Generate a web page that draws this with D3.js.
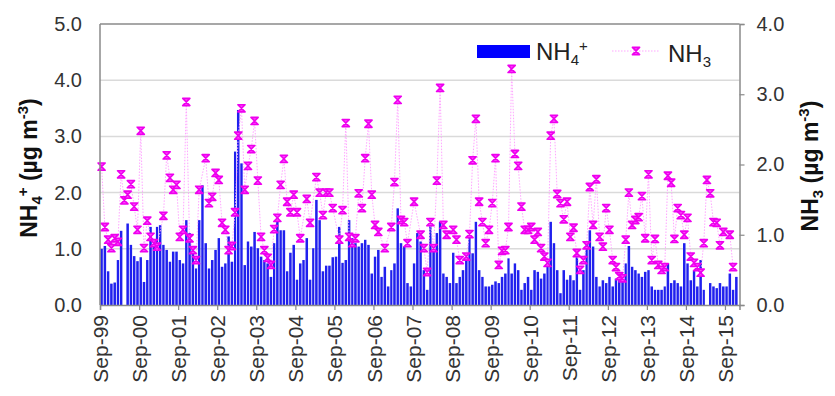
<!DOCTYPE html>
<html>
<head>
<meta charset="utf-8">
<script src="https://cdn.jsdelivr.net/npm/d3@7"></script>
<style>
  html, body { margin: 0; padding: 0; background: #fff; }
  svg { display: block; }
  text { font-family: Arial, "Liberation Sans", sans-serif; }
</style>
</head>
<body>
<svg id="chart" width="835" height="396"></svg>
<script>
// Monthly record, first month September 1999
const firstMonth = [1999, 8];

// NH4+ concentration (µg m-3), left axis
const nh4Values = [
  1.0, 1.05, 0.6, 0.38, 0.4, 0.8, 1.32, null, 1.45, 1.07, 0.87, 0.78,
  0.85, 0.41, 0.8, 1.39, 1.04, 1.39, 1.42, 1.07, 0.98, 0.77, 0.95, 0.95,
  0.8, 0.74, 1.51, 1.28, 0.98, 0.65, 1.51, 2.13, 1.1, 0.65, 0.8, 0.98,
  1.19, 0.68, 0.74, 1.22, 0.77, 2.73, 3.47, 2.52, 0.71, 1.13, 1.04, 1.3,
  1.01, 0.86, 0.8, 0.74, 0.5, 1.1, 1.55, 1.33, 1.33, 0.6, 0.93, 1.07,
  0.45, 0.74, 0.8, 1.19, 0.45, 1.01, 1.87, 1.51, 0.6, 0.7, 0.7, 0.85,
  0.86, 1.39, 0.75, 0.8, 1.51, 1.19, 1.1, 1.04, 1.1, 1.16, 1.07, 0.56,
  0.86, 0.98, 0.5, 0.68, 0.33, 0.62, 0.74, 1.72, 1.1, 1.04, 0.39, 0.33,
  0.74, 1.28, 1.13, 0.62, 0.27, 1.45, 0.95, 1.28, 1.48, 0.56, 0.5, 0.39,
  0.93, 0.39, 0.5, 0.62, 0.8, 1.22, 0.92, 1.48, 0.62, 0.5, 0.33, 0.33,
  0.36, 0.42, 0.39, 0.5, 0.56, 0.83, 0.56, 0.74, 0.62, 0.27, 0.39, 0.5,
  0.27, 0.62, 0.59, 0.47, 0.56, 0.74, 1.48, 1.1, 0.62, 0.21, 0.62, 0.45,
  0.53, 0.44, 0.85, 0.27, 0.62, 1.1, 1.33, 1.04, 0.5, 0.33, 0.44, 0.39,
  0.5, 0.33, 0.47, 0.44, 0.45, 0.74, 1.05, 0.68, 0.62, 0.56, 0.5, 0.59,
  0.62, 0.33, 0.27, 0.27, 0.27, 0.33, 0.74, 0.39, 0.44, 0.39, 0.33, 1.1,
  0.74, 0.44, 0.62, 0.33, 0.8, 0.27, null, 0.39, 0.33, 0.3, 0.39, 0.33,
  0.33, 0.56, 0.27, 0.5
];

// NH3 concentration (µg m-3), right axis
const nh3Values = [
  1.97, 1.11, 0.93, 0.81, 0.95, 0.9, 1.86, 1.49, 1.57, 1.72, 1.4, 1.07,
  2.48, 0.81, 1.2, 0.97, 0.88, 0.83, null, 1.27, 2.13, 1.81, 1.64, 1.71,
  0.97, 1.07, 2.89, 0.95, 0.78, 0.64, 1.64, null, 2.09, 1.45, 1.54, 1.88,
  1.78, 1.17, 1.07, 0.78, 0.84, 1.32, 2.41, 2.8, 1.64, 1.98, 2.22, 2.62,
  1.77, 0.97, 0.78, 0.67, 0.57, 1.08, 1.24, 1.71, 2.08, 1.47, 1.32, 1.57,
  1.32, 0.95, null, 1.51, 1.17, null, 1.82, 1.6, 1.28, 1.6, 1.6, 1.38,
  null, 0.93, 1.35, 2.59, 0.97, 0.88, 0.95, 1.59, 1.38, 2.09, 2.58, 1.57,
  1.14, 1.04, null, 0.81, null, 1.11, 1.75, 2.92, 1.21, 1.18, 0.88, null,
  1.47, null, 1.0, 0.81, 0.47, 1.18, 0.81, 1.77, 3.09, 1.14, 1.0, null,
  1.07, 0.93, 0.64, null, 0.69, 1.01, 2.06, 2.65, 1.47, 1.18, 0.88, 1.07,
  1.45, 2.09, 0.57, 0.77, 0.78, 1.11, 3.36, 2.15, 1.98, 1.4, 1.07, 1.07,
  1.11, 0.93, 1.04, 0.81, 0.69, 0.6, 2.41, 2.65, 1.58, 1.45, 1.22, 1.47,
  0.97, 1.1, 0.74, 0.5, 0.64, 0.85, 1.68, 1.14, 1.79, 0.97, 0.83, 1.38,
  1.07, 0.64, 0.54, 0.41, 0.38, 0.93, 1.6, 1.14, 1.21, 1.25, 1.55, 0.95,
  1.86, 0.64, 0.94, 0.57, 0.5, 0.54, 1.84, 1.74, 0.94, 1.38, 1.28, 1.0,
  1.24, 0.69, 0.6, 0.54, 0.46, 0.88, 1.78, 1.59, 1.18, 1.17, 0.85, 1.04,
  null, 1.0, 0.54, null
];

const xTickLabels = ["Sep-99", "Sep-00", "Sep-01", "Sep-02", "Sep-03", "Sep-04",
  "Sep-05", "Sep-06", "Sep-07", "Sep-08", "Sep-09", "Sep-10", "Sep-11",
  "Sep-12", "Sep-13", "Sep-14", "Sep-15"];
const leftTicks = [0, 1, 2, 3, 4, 5];
const rightTicks = [0, 1, 2, 3, 4];

const svg = d3.select("#chart");
const plot = { left: 100, right: 739.5, top: 24, bottom: 305 };

const start = new Date(firstMonth[0], firstMonth[1], 1);
const months = nh4Values.map((_, i) => d3.timeMonth.offset(start, i));

const x = d3.scaleTime()
  .domain([start, new Date(2016, 0, 15)])
  .range([plot.left, plot.right]);
const yL = d3.scaleLinear().domain([0, 5]).range([plot.bottom, plot.top]);
const yR = d3.scaleLinear().domain([0, 4]).range([plot.bottom, plot.top]);

const tickDates = xTickLabels.map((_, i) => new Date(firstMonth[0] + i, firstMonth[1], 1));

// horizontal gridlines on the left-axis ticks
svg.append("g").selectAll("line")
  .data(leftTicks.filter(d => d > 0 && d < 5))
  .join("line")
  .attr("x1", plot.left).attr("x2", plot.right)
  .attr("y1", d => yL(d)).attr("y2", d => yL(d))
  .attr("stroke", "#dadada").attr("stroke-width", 1.5);

// NH4+ bars
const monthStart = i => x(months[i]);
const monthEnd = i => x(d3.timeMonth.offset(months[i], 1));
svg.append("g").selectAll("rect")
  .data(nh4Values.map((v, i) => ({ v, i })).filter(d => d.v != null))
  .join("rect")
  .attr("x", d => monthStart(d.i) + 0.4)
  .attr("width", d => monthEnd(d.i) - monthStart(d.i) - 0.8)
  .attr("y", d => yL(d.v))
  .attr("height", d => yL(0) - yL(d.v))
  .attr("fill", "#2020ee");

// NH3 line and markers
const nh3Pts = nh3Values.map((v, i) => ({ v, i })).filter(d => d.v != null)
  .map(d => ({ v: d.v, cx: (monthStart(d.i) + monthEnd(d.i)) / 2 }));

svg.append("path")
  .datum(nh3Pts)
  .attr("d", d3.line().x(d => d.cx).y(d => yR(d.v)))
  .attr("fill", "none")
  .attr("stroke", "#ffa6ff")
  .attr("stroke-width", 1)
  .attr("stroke-dasharray", "1.5,1.5");

// bow-tie "x" marker
const markerPath = "M-3.6,-3.6L3.6,-3.6L-3.6,3.6L3.6,3.6Z";
function drawMarker(g) {
  g.attr("d", markerPath)
    .attr("fill", "#ff44ff")
    .attr("stroke", "#ee00ee")
    .attr("stroke-width", 1.6)
    .attr("stroke-linejoin", "round");
}
svg.append("g").selectAll("path")
  .data(nh3Pts)
  .join("path")
  .attr("transform", d => `translate(${d.cx},${yR(d.v)})`)
  .call(drawMarker);

// frame
svg.append("line")
  .attr("x1", plot.left).attr("x2", plot.right)
  .attr("y1", plot.top).attr("y2", plot.top)
  .attr("stroke", "#8a8a8a").attr("stroke-width", 1.5);
svg.append("line")
  .attr("x1", plot.left).attr("x2", plot.left)
  .attr("y1", plot.top).attr("y2", plot.bottom)
  .attr("stroke", "#8a8a8a").attr("stroke-width", 1.5);

// x axis
const gx = svg.append("g")
  .attr("transform", `translate(0,${plot.bottom})`)
  .call(d3.axisBottom(x).tickValues(tickDates).tickSize(5)
    .tickFormat((d, i) => xTickLabels[i]));
gx.select(".domain").attr("stroke", "#8a8a8a").attr("stroke-width", 1.5);
gx.selectAll(".tick line").attr("stroke", "#8a8a8a").attr("stroke-width", 1.2);
gx.selectAll(".tick text")
  .attr("transform", "rotate(-90)")
  .attr("text-anchor", "end")
  .attr("x", -10).attr("y", 0).attr("dy", "0.36em")
  .attr("font-size", 21).attr("fill", "#333")
  .style("font-family", "Arial, 'Liberation Sans', sans-serif");

// left axis
const gl = svg.append("g")
  .attr("transform", `translate(${plot.left},0)`)
  .call(d3.axisLeft(yL).tickValues(leftTicks).tickSize(0).tickPadding(18)
    .tickFormat(d3.format(".1f")));
gl.select(".domain").remove();
gl.selectAll(".tick text").attr("font-size", 20).attr("fill", "#333")
  .style("font-family", "Arial, 'Liberation Sans', sans-serif");

// right axis
const gr = svg.append("g")
  .attr("transform", `translate(${plot.right},0)`)
  .call(d3.axisRight(yR).tickValues(rightTicks).tickSize(5).tickPadding(12)
    .tickFormat(d3.format(".1f")));
gr.select(".domain").attr("stroke", "#8a8a8a").attr("stroke-width", 1.5);
gr.selectAll(".tick line").attr("stroke", "#8a8a8a").attr("stroke-width", 1.2);
gr.selectAll(".tick text").attr("font-size", 20).attr("fill", "#333")
  .style("font-family", "Arial, 'Liberation Sans', sans-serif");

// axis titles with sub/superscripts
function chemTitle(sel, parts) {
  parts.forEach(p => {
    sel.append("tspan")
      .attr("font-size", p.size || null)
      .attr("dy", p.dy || 0)
      .text(p.t);
  });
}
const leftTitle = svg.append("text")
  .attr("transform", "translate(37,168) rotate(-90)")
  .attr("text-anchor", "middle")
  .attr("font-size", 23).attr("font-weight", "bold").attr("fill", "#111");
chemTitle(leftTitle, [
  { t: "NH" }, { t: "4", size: 15, dy: 5 }, { t: "+", size: 15, dy: -14 },
  { t: " (µg m", dy: 9 }, { t: "-3", size: 15, dy: -9 }, { t: ")", dy: 9 }
]);

const rightTitle = svg.append("text")
  .attr("transform", "translate(818,166) rotate(-90)")
  .attr("text-anchor", "middle")
  .attr("font-size", 23).attr("font-weight", "bold").attr("fill", "#111");
chemTitle(rightTitle, [
  { t: "NH" }, { t: "3", size: 15, dy: 5 },
  { t: " (µg m", dy: -5 }, { t: "-3", size: 15, dy: -9 }, { t: ")", dy: 9 }
]);

// legend
const lg = svg.append("g");
lg.append("rect").attr("x", 477).attr("y", 45).attr("width", 53).attr("height", 13)
  .attr("fill", "#0000ff");
const lt1 = lg.append("text").attr("x", 536).attr("y", 60)
  .attr("font-size", 24).attr("fill", "#222");
chemTitle(lt1, [{ t: "NH" }, { t: "4", size: 15, dy: 5 }, { t: "+", size: 15, dy: -14 }]);

lg.append("line").attr("x1", 612).attr("x2", 660).attr("y1", 51).attr("y2", 51)
  .attr("stroke", "#ffa6ff").attr("stroke-width", 1).attr("stroke-dasharray", "1.5,1.5");
lg.append("path").attr("transform", "translate(636,51)").call(drawMarker);
const lt2 = lg.append("text").attr("x", 668).attr("y", 62)
  .attr("font-size", 24).attr("fill", "#222");
chemTitle(lt2, [{ t: "NH" }, { t: "3", size: 15, dy: 5 }]);
</script>
</body>
</html>
